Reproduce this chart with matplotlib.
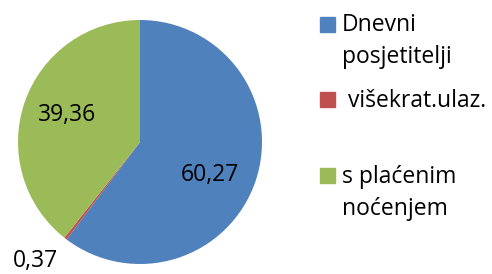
import matplotlib
matplotlib.use("Agg")
import matplotlib.pyplot as plt
from matplotlib.patches import Rectangle

categories = ["Dnevni\nposjetitelji", " višekrat.ulaz.", "s plaćenim\nnoćenjem"]
values = [60.27, 0.37, 39.36]
value_labels = ["60,27", "0,37", "39,36"]
colors = ["#4F81BD", "#C0504D", "#9BBB59"]

W, H = 492, 274
fig = plt.figure(figsize=(W / 100, H / 100), dpi=100)
cx, cy, r = 140, 142, 122
ax = fig.add_axes([(cx - r) / W, (H - cy - r) / H, 2 * r / W, 2 * r / H])
ax.pie(values, colors=colors, startangle=90, counterclock=False, radius=1)
ax.set_xlim(-1, 1)
ax.set_ylim(-1, 1)
ax.set_aspect("equal")
ax.axis("off")

font = "Open Sans"
fs = 16.5
label_pos = [(0.57, -0.27), (-0.86, -0.975), (-0.60, 0.22)]
for (x, y), t in zip(label_pos, value_labels):
    ax.text(x, y, t, ha="center", va="center", fontsize=fs, family=font, clip_on=False)

# legend
sq_y = [17, 92, 168]
base_y = [31, 107, 183]
for c, lab, sy, by in zip(colors, categories, sq_y, base_y):
    fig.patches.append(Rectangle((320 / W, (H - sy - 15) / H), 15 / W, 15 / H,
                                 transform=fig.transFigure, color=c))
    lines = lab.split("\n")
    for i, ln in enumerate(lines):
        fig.text(342 / W, (H - by - i * 32) / H, ln, ha="left", va="baseline",
                 fontsize=fs, family=font)

fig.savefig("out.png", dpi=100)
